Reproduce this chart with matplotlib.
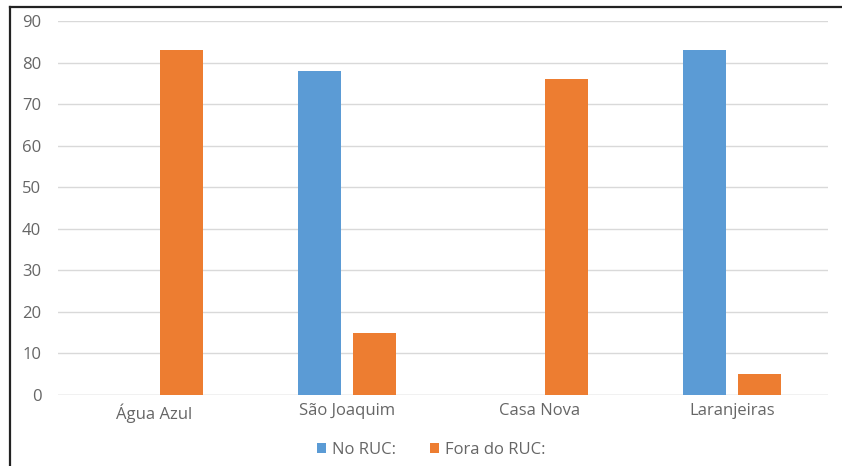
import matplotlib.pyplot as plt
from matplotlib.lines import Line2D
import numpy as np

plt.rcParams['font.family'] = ['Open Sans', 'DejaVu Sans']

# ── DATA ─────────────────────────────────────────────────────────────────────
categories = ['Água Azul', 'São Joaquim', 'Casa Nova', 'Laranjeiras']
no_ruc     = [0, 78, 0, 83]
fora_ruc   = [83, 15, 76, 5]
series_names = ['No RUC:', 'Fora do RUC:']

blue, orange = '#5B9BD5', '#ED7D31'
text_grey = '#666666'

fig = plt.figure(figsize=(8.42, 4.66), dpi=100)
ax = fig.add_axes([0.0689, 0.1524, 0.9145, 0.8026])

x = np.arange(len(categories))
w = 0.223
off = 0.143
ax.bar(x - off, no_ruc, w, color=blue, label=series_names[0], zorder=3)
ax.bar(x + off, fora_ruc, w, color=orange, label=series_names[1], zorder=3)

ax.set_xlim(-0.5, len(categories) - 0.5)
ax.set_ylim(0, 90)
ax.set_yticks(range(0, 91, 10))
ax.set_xticks(x)
ax.set_xticklabels(categories)
ax.yaxis.grid(True, color='#D9D9D9', lw=1, zorder=0)
ax.tick_params(length=0, labelsize=12, colors=text_grey)
ax.tick_params(axis='x', pad=6)
ax.tick_params(axis='y', pad=12)
for s in ax.spines.values():
    s.set_visible(False)
ax.axhline(0, color='#D9D9D9', lw=1, zorder=2)

fig.legend(loc='center', bbox_to_anchor=(0.512, 0.034), ncol=2, frameon=False,
           fontsize=12, labelcolor=text_grey, handlelength=0.55, handleheight=0.55,
           handletextpad=0.35, columnspacing=2.0)

# frame of the pasted screenshot (left and top edges)
fig.add_artist(Line2D([10/842, 10/842], [0, 1 - 7/466], color='#222222', lw=1.6,
                      transform=fig.transFigure))
fig.add_artist(Line2D([10/842, 1], [1 - 7/466, 1 - 7/466], color='#222222', lw=1.6,
                      transform=fig.transFigure))

fig.savefig('out.png', dpi=100)
